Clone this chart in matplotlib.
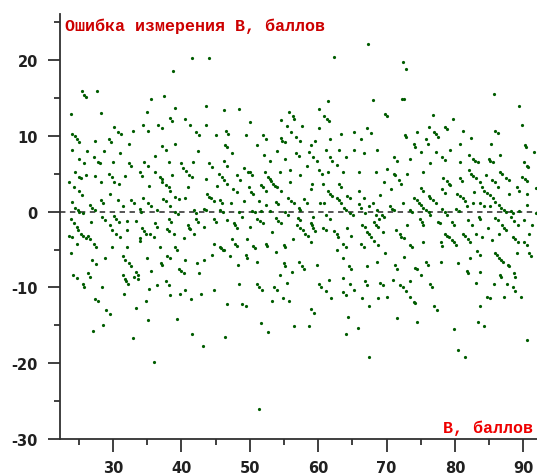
import matplotlib.pyplot as plt
from matplotlib.ticker import MultipleLocator

# (B, error) pairs, split by B range
pts_low = [
    (41.6, 20.3), (44.0, 20.3), (38.8, 18.6), (25.5, 15.9), (25.8, 15.4), (26.1, 15.2),
    (27.7, 15.9), (35.5, 14.9), (37.5, 15.3), (23.8, 12.9), (28.2, 13.0), (39.1, 13.7),
    (43.6, 13.9), (46.2, 13.4), (34.9, 13.2), (38.3, 12.4), (38.6, 12.0), (30.1, 11.2),
    (30.7, 10.5), (31.2, 10.2), (32.9, 10.7), (34.4, 11.5), (35.1, 10.7), (36.6, 11.5),
    (37.1, 11.0), (40.5, 12.2), (41.3, 11.5), (43.6, 11.5), (42.1, 10.5), (42.6, 10.1),
    (45.1, 10.1), (46.5, 10.7), (46.8, 10.3), (24.0, 10.3), (24.4, 10.0), (24.7, 9.6),
    (25.0, 9.2), (27.3, 9.3), (29.4, 9.6), (29.7, 9.2), (32.4, 8.9), (39.0, 9.0),
    (37.1, 8.7), (46.4, 8.8), (46.7, 8.5),
    (24.0, 8.1), (26.2, 8.0), (28.7, 8.0), (31.0, 7.8), (36.2, 7.4), (37.8, 8.1),
    (42.5, 8.0), (25.1, 6.9), (25.7, 6.4), (27.2, 7.2), (27.8, 6.6), (28.1, 6.4),
    (30.0, 6.6), (32.3, 6.4), (32.7, 6.1), (34.6, 6.6), (35.1, 6.1), (38.2, 6.6),
    (39.9, 6.4), (40.3, 5.8), (40.7, 5.4), (41.7, 6.5), (44.0, 6.4), (44.5, 5.9),
    (46.2, 6.7), (46.6, 6.1), (24.5, 5.2), (25.0, 4.6), (25.3, 4.4), (26.0, 4.9),
    (27.4, 4.7), (29.4, 5.0), (29.9, 4.6), (31.8, 4.7), (33.9, 5.2), (34.3, 4.7),
    (36.2, 5.2), (36.8, 4.6), (37.1, 4.3), (38.6, 4.8), (41.1, 4.9), (41.6, 4.6),
    (43.6, 4.3), (45.5, 5.0), (45.9, 4.6), (46.3, 4.2), (23.6, 3.9), (24.3, 3.2),
    (25.0, 2.7), (25.4, 2.2), (28.3, 3.9), (30.1, 3.9), (30.9, 3.6), (35.2, 3.4),
    (37.2, 3.9), (37.8, 3.5), (38.2, 3.2), (38.4, 2.7), (40.9, 3.2), (45.2, 3.4),
    (46.7, 3.7), (28.3, 1.5), (28.6, 1.2), (29.6, 2.3), (30.7, 1.5), (32.7, 1.5),
    (33.1, 1.2), (34.4, 1.8), (35.1, 1.2), (35.5, 0.8), (37.3, 1.7), (37.7, 1.4),
    (39.1, 2.0), (39.6, 1.7), (40.6, 1.8), (43.8, 2.3), (44.1, 2.0), (44.4, 1.8),
    (44.8, 1.4), (45.6, 1.5), (46.0, 1.1), (24.0, 1.3), (24.5, 0.5), (24.9, 0.2),
    (25.1, 0.0), (26.6, 0.9), (27.0, 0.5), (27.3, 0.2), (31.4, 0.7), (33.9, 0.4),
    (34.1, 0.0), (36.5, 0.2), (38.4, 0.7), (39.1, 0.0), (39.5, -0.3), (41.8, 0.2),
    (42.2, -0.2), (43.3, 0.4), (43.6, 0.2), (45.7, 0.2), (46.1, 0.0), (23.8, -1.0),
    (24.3, -1.5), (24.8, -2.0), (25.6, -0.2), (26.8, -1.4), (28.4, -0.7), (28.8, -1.1),
    (30.1, -0.5), (30.5, -1.0), (30.9, -1.4), (32.0, -1.2), (33.4, -1.2), (34.3, -2.2),
    (34.6, -2.6), (34.8, -2.9), (36.2, -1.5), (36.5, -2.0), (38.2, -0.9), (38.5, -1.4),
    (40.9, -1.8), (41.1, -2.1), (41.3, -2.3), (42.1, -1.0), (42.4, -1.3), (43.3, -2.0),
    (44.8, -0.9), (45.1, -1.3), (46.7, -1.1), (23.6, -3.2), (24.0, -3.4), (24.9, -2.4),
    (25.3, -2.9), (25.6, -3.2), (26.0, -3.5), (26.3, -3.2), (26.7, -3.6), (27.2, -4.2),
    (27.5, -4.6), (29.5, -1.8), (29.9, -2.4), (30.4, -2.9), (31.0, -3.4), (32.1, -2.4),
    (33.9, -3.5), (34.0, -3.9), (35.4, -2.9), (36.0, -3.4), (37.9, -2.3), (38.2, -2.6),
    (38.9, -3.0), (40.4, -3.5), (41.8, -2.9), (44.8, -4.2), (45.7, -4.6), (46.1, -5.1),
    (23.8, -5.5), (24.7, -4.2), (27.0, -6.4), (27.5, -6.9), (28.9, -6.1), (29.9, -4.6),
    (31.4, -5.9), (31.7, -6.4), (32.1, -4.6), (32.4, -6.8), (32.7, -7.2), (33.3, -8.0),
    (33.6, -8.3), (34.9, -6.1), (35.6, -7.8), (36.9, -4.7), (37.0, -6.8), (37.2, -7.0),
    (37.9, -5.8), (38.4, -6.1), (39.1, -4.6), (39.3, -5.0), (39.6, -7.5), (39.9, -7.8),
    (40.6, -6.4), (42.3, -6.8), (42.6, -8.1), (43.3, -6.4), (44.5, -5.7), (45.8, -4.8),
    (46.2, -5.1), (47.1, -5.9), (24.2, -8.3), (24.7, -8.8), (25.6, -9.6), (25.8, -9.9),
    (26.3, -8.1), (26.7, -8.6), (28.4, -10.0), (31.4, -8.4), (31.7, -8.9), (31.9, -9.2),
    (32.2, -9.5), (33.1, -8.6), (33.6, -8.9), (35.2, -10.2), (36.5, -9.7), (37.8, -9.2),
    (38.2, -9.7), (38.4, -11.0), (39.8, -10.9), (40.4, -8.1), (40.6, -10.3), (42.8, -10.8),
    (44.8, -10.3), (31.6, -10.9),
    (27.4, -11.5), (27.8, -11.8), (29.0, -13.0), (29.5, -13.5), (28.6, -14.9), (27.1, -15.7),
    (32.9, -16.7), (33.4, -12.7), (34.8, -11.8), (35.1, -14.3), (36.0, -19.9), (39.3, -14.2),
    (41.4, -11.5), (41.6, -16.2), (43.1, -17.7), (46.4, -16.5), (46.6, -12.2),
]

pts_mid = [
    (67.3, 22.2), (62.3, 20.4), (61.4, 14.6), (68.0, 14.8), (48.4, 13.6), (50.1, 11.8),
    (55.7, 13.2), (56.3, 12.6), (56.5, 12.3), (60.1, 13.6), (60.8, 12.7), (61.3, 12.3),
    (61.6, 12.0), (54.5, 12.1), (57.7, 11.3), (55.5, 11.3), (56.1, 10.5), (60.1, 11.1),
    (63.3, 10.2), (65.3, 10.5), (67.2, 11.0), (67.7, 10.4), (49.5, 10.1), (52.0, 10.1),
    (52.4, 9.6), (54.5, 9.7), (54.7, 9.4), (55.2, 9.2), (56.8, 9.9), (57.3, 9.3),
    (59.5, 9.3), (61.7, 9.6), (66.3, 9.6), (51.0, 8.8), (59.0, 8.8), (47.4, 7.7),
    (52.1, 7.5), (54.0, 8.0), (56.8, 7.7), (57.2, 7.4), (58.7, 7.9), (59.2, 7.2),
    (59.9, 6.7), (61.1, 8.1), (61.7, 7.2), (63.0, 8.1), (64.1, 7.2), (65.3, 8.1),
    (66.7, 7.7), (68.6, 8.1), (53.0, 6.7), (55.2, 7.0), (58.3, 6.0), (62.0, 6.7),
    (62.7, 6.2), (63.7, 5.3), (66.0, 5.3), (68.5, 5.2), (48.1, 4.9), (49.2, 5.8),
    (49.7, 5.3), (50.0, 5.2), (50.3, 4.9), (52.2, 5.3), (54.4, 5.3), (55.9, 5.5),
    (57.3, 4.9), (60.1, 5.5), (60.6, 5.0), (61.4, 5.2), (48.6, 4.2), (52.6, 4.6),
    (52.9, 4.3), (53.1, 4.0), (53.4, 3.7), (53.7, 3.4), (54.0, 3.2), (54.6, 2.7),
    (55.9, 3.9), (59.1, 3.7), (60.7, 3.7), (63.0, 3.6), (63.3, 3.2), (47.6, 3.0),
    (48.1, 2.6), (49.9, 3.2), (50.2, 2.6), (50.5, 2.4), (51.7, 3.5), (52.0, 3.2),
    (52.3, 2.8), (55.6, 1.8), (56.1, 1.4), (56.5, 1.1), (58.0, 1.7), (58.4, 1.2),
    (59.0, 3.0), (61.4, 2.7), (61.8, 2.4), (62.0, 2.1), (62.7, 1.8), (63.0, 1.5),
    (63.4, 1.2), (64.2, 2.1), (64.6, 1.8), (65.9, 2.8), (66.7, 1.8), (68.0, 1.1),
    (69.0, 2.2), (47.3, 1.1), (49.1, 1.4), (51.3, 1.4), (52.4, 0.9), (53.8, 1.3),
    (54.1, 1.0), (57.2, 0.5), (57.4, 0.2), (60.3, 1.1), (60.9, 1.1), (63.8, 0.5),
    (65.9, 1.0), (66.2, 0.5), (67.4, 0.8), (68.6, 0.2), (48.4, 0.0), (48.9, -0.7),
    (50.3, 0.1), (50.7, -0.1), (51.7, 0.1), (52.9, 0.1), (55.2, -0.1), (55.6, -0.4),
    (57.0, -0.8), (57.4, -1.1), (59.3, -0.7), (61.1, -0.4), (61.7, -0.9), (64.1, 0.2),
    (64.7, -0.2), (65.1, -0.4), (66.9, -0.2), (68.4, -0.4), (68.9, -1.0), (47.7, -1.5),
    (47.9, -1.8), (48.1, -2.1), (50.1, -2.0), (51.1, -0.9), (51.5, -1.2), (52.0, -1.5),
    (53.8, -0.8), (54.1, -1.2), (54.5, -1.5), (56.9, -1.8), (57.4, -2.1), (57.8, -2.4),
    (58.1, -2.9), (58.5, -3.2), (58.9, -1.5), (59.1, -1.8), (59.3, -2.1), (59.5, -2.5),
    (60.7, -2.1), (61.1, -2.4), (62.3, -2.6), (62.7, -3.0), (62.9, -3.3), (64.2, -2.2),
    (66.4, -1.7), (66.8, -2.0), (67.1, -2.7), (67.4, -3.0), (67.7, -3.3), (68.1, -1.3),
    (68.5, -1.7), (68.7, -2.0), (47.4, -3.6), (47.9, -4.2), (48.1, -4.5), (49.6, -3.6),
    (50.5, -4.5), (50.8, -4.8), (52.3, -4.2), (52.5, -4.5), (53.3, -2.7), (53.8, -5.3),
    (55.0, -4.4), (55.2, -4.7), (56.3, -3.6), (58.9, -4.0), (62.8, -5.1), (63.7, -4.2),
    (64.0, -4.7), (64.8, -3.2), (66.2, -4.2), (66.7, -4.7), (68.1, -3.9), (68.7, -4.4),
    (49.4, -5.7), (49.6, -6.1), (48.3, -7.0), (51.0, -6.6), (55.0, -6.8), (55.2, -7.1),
    (56.2, -8.0), (57.2, -6.6), (57.7, -7.1), (58.0, -7.5), (59.8, -7.0), (63.7, -6.1),
    (64.5, -7.2), (64.8, -7.6), (67.1, -7.1), (68.6, -6.6), (54.4, -8.3), (48.4, -9.6),
    (51.1, -9.6), (51.3, -9.9), (51.8, -10.3), (53.6, -9.9), (54.0, -10.3), (55.4, -9.4),
    (60.1, -9.6), (60.4, -9.9), (61.6, -9.0), (61.2, -10.5), (63.7, -8.7), (63.7, -10.6),
    (64.1, -11.0), (64.7, -9.6), (65.3, -10.3), (66.9, -9.2), (67.2, -9.7),
    (48.9, -12.2), (49.4, -12.5), (53.3, -11.8), (54.9, -11.4), (55.7, -11.8), (59.0, -12.9),
    (59.4, -13.4), (51.6, -14.7), (52.7, -15.9), (56.4, -15.1), (58.6, -15.1), (51.4, -26.1),
    (61.9, -11.4), (64.4, -13.9), (64.1, -16.1), (65.8, -15.4), (67.5, -12.4), (67.5, -19.2),
    (66.4, -11.4), (68.7, -11.4),
]

pts_high = [
    (72.4, 19.7), (72.9, 18.9), (72.3, 14.9), (72.6, 14.9), (85.7, 15.5), (89.3, 14.0),
    (89.8, 11.5), (69.8, 12.9), (70.1, 12.7), (76.8, 12.8), (79.7, 12.2), (76.2, 11.2),
    (74.4, 10.5), (77.0, 10.5), (77.2, 10.2), (77.5, 9.9), (78.5, 11.2), (78.9, 10.9),
    (81.2, 10.7), (85.8, 10.7), (86.3, 10.4), (72.7, 10.1), (72.9, 9.9), (75.7, 9.6),
    (76.0, 9.0), (74.0, 8.9), (74.1, 8.6), (80.8, 8.9), (82.3, 9.7), (85.3, 9.0),
    (90.3, 8.8), (90.4, 8.5),
    (71.1, 7.2), (71.6, 6.7), (73.4, 7.0), (75.0, 7.9), (77.2, 7.9), (78.1, 7.2),
    (78.5, 6.8), (79.3, 8.1), (80.8, 6.6), (82.0, 7.5), (82.7, 7.0), (83.0, 6.7),
    (83.3, 6.5), (85.0, 7.0), (85.2, 6.7), (85.6, 6.5), (86.6, 7.5), (90.1, 6.6),
    (90.6, 6.1), (91.6, 7.9), (70.1, 5.7), (71.1, 5.0), (71.3, 4.8), (73.0, 5.0),
    (75.4, 5.2), (76.4, 6.4), (78.3, 4.5), (78.8, 4.0), (79.1, 3.7), (79.3, 3.5),
    (80.7, 4.4), (81.0, 4.0), (82.0, 5.5), (82.4, 5.0), (82.7, 4.7), (83.1, 4.4),
    (83.7, 3.9), (84.6, 4.9), (85.4, 4.2), (85.9, 3.9), (86.6, 5.3), (86.9, 5.0),
    (87.5, 4.5), (87.9, 4.2), (89.8, 4.6), (90.2, 4.3), (90.5, 4.0), (90.7, 5.9),
    (69.7, 3.9), (71.8, 4.2), (72.1, 3.7), (70.7, 3.0), (75.1, 3.1), (75.4, 2.7),
    (76.2, 2.1), (76.4, 1.8), (76.8, 1.5), (77.2, 1.2), (78.1, 3.0), (78.5, 2.5),
    (80.3, 2.4), (80.7, 2.1), (81.2, 1.8), (81.5, 1.4), (82.8, 2.6), (84.0, 3.3),
    (84.3, 2.8), (84.7, 2.5), (85.1, 2.2), (85.6, 1.8), (85.9, 1.3), (86.3, 3.3),
    (87.9, 2.4), (89.1, 3.2), (89.3, 2.8), (90.6, 2.4), (91.8, 3.1), (72.4, 1.2),
    (74.0, 1.8), (74.4, 1.5), (74.7, 1.2), (75.1, 0.9), (75.4, 0.5), (75.8, 0.2),
    (76.2, -0.1), (76.4, -0.4), (70.5, 0.8), (70.8, 0.4), (71.1, 0.2), (73.5, 0.2),
    (73.7, 0.0), (78.1, 0.4), (78.6, -0.1), (78.9, -0.4), (80.2, 0.4), (80.6, 0.1),
    (81.7, 0.8), (82.7, 1.2), (83.7, 1.2), (84.2, 0.8), (85.2, 0.7), (86.4, 0.9),
    (86.8, 0.5), (87.2, 0.2), (87.5, -0.1), (88.2, 0.1), (88.5, -0.2), (89.3, 0.1),
    (90.6, 0.9), (69.4, -0.4), (69.7, -0.7), (73.0, -1.8), (74.9, -1.0), (75.2, -1.3),
    (75.3, -1.7), (77.5, -1.3), (77.8, -1.5), (79.6, -1.4), (79.9, -1.8), (81.9, -1.1),
    (82.5, -1.8), (83.5, -0.7), (83.7, -1.0), (84.8, -2.1), (85.9, -0.8), (86.3, -1.1),
    (86.9, -1.7), (87.2, -2.2), (87.5, -2.4), (88.2, -0.7), (88.7, -1.2), (89.2, -1.8),
    (90.1, -1.1), (91.3, -1.8), (91.9, -0.2), (69.5, -2.7), (71.4, -2.4), (71.9, -3.0),
    (72.1, -3.3), (72.6, -3.5), (73.4, -4.4), (73.7, -4.7), (75.4, -4.0), (77.9, -4.0),
    (78.1, -4.5), (78.6, -2.9), (78.9, -3.2), (79.2, -3.4), (79.6, -3.7), (79.9, -4.0),
    (80.2, -4.4), (81.2, -2.9), (81.5, -3.2), (81.9, -3.6), (82.2, -4.0), (83.1, -3.0),
    (84.0, -3.4), (83.2, -5.2), (85.4, -3.7), (86.4, -3.0), (88.5, -3.3), (88.8, -3.6),
    (89.2, -4.0), (90.1, -4.0), (90.5, -4.4), (90.8, -2.9), (69.8, -5.4), (71.3, -7.0),
    (71.5, -7.5), (72.6, -6.0), (74.2, -7.4), (74.5, -7.5), (75.7, -6.6), (76.0, -7.0),
    (78.0, -6.7), (80.4, -6.8), (82.2, -6.1), (83.7, -5.7), (85.9, -5.4), (86.2, -5.7),
    (86.4, -6.1), (86.7, -6.4), (87.0, -6.7), (87.7, -7.0), (87.9, -7.2), (89.1, -5.5),
    (90.8, -5.4), (91.1, -5.8), (69.1, -9.4), (69.5, -9.7), (71.0, -9.0), (72.0, -9.7),
    (72.4, -10.0), (73.4, -9.1), (75.0, -8.3), (76.4, -9.6), (76.7, -9.9), (81.7, -7.8),
    (81.9, -8.1), (83.6, -8.0), (83.1, -9.4), (85.7, -9.6), (86.6, -8.3), (86.8, -8.6),
    (87.6, -9.6), (88.6, -8.1), (88.8, -8.6), (88.5, -10.0), (88.8, -10.4), (89.6, -11.3),
    (70.1, -11.3), (72.8, -10.5), (73.5, -11.3), (84.7, -11.2), (87.2, -11.2),
    (74.0, -11.9), (74.2, -12.1), (77.0, -12.5), (77.4, -13.0), (83.7, -12.4), (85.2, -11.4),
    (71.5, -14.0), (74.4, -14.5), (79.9, -15.5), (80.5, -18.3), (81.4, -19.2), (83.4, -14.5),
    (84.2, -15.1), (90.5, -16.9),
]

x_ticks = [30, 40, 50, 60, 70, 80, 90]
y_ticks = [-30, -20, -10, 0, 10, 20]

plt.rcParams['axes.unicode_minus'] = False

fig = plt.figure(figsize=(5.37, 4.77), dpi=100)
ax = fig.add_axes([60 / 537, 37 / 477, 477 / 537, 425 / 477])

for pts in (pts_low, pts_mid, pts_high):
    bx = [p[0] for p in pts]
    err = [p[1] for p in pts]
    ax.plot(bx, err, 'o', color='#005c00', ms=2.3, mew=0)

ax.axhline(0, color='#484848', lw=1.3, ls=(0, (3, 2.5)), zorder=0)

ax.set_xlim(22.25, 92.0)
ax.set_ylim(-30, 26.1)

for side in ('top', 'right'):
    ax.spines[side].set_visible(False)
for side in ('left', 'bottom'):
    ax.spines[side].set_color('#303030')
    ax.spines[side].set_linewidth(1.3)

ax.set_xticks(x_ticks)
ax.set_yticks(y_ticks)
ax.xaxis.set_minor_locator(MultipleLocator(5))
ax.yaxis.set_minor_locator(MultipleLocator(5))
ax.tick_params(which='major', length=9, width=1.3, color='#303030', pad=6,
               labelsize=10.5, labelcolor='#202020')
ax.tick_params(axis='y', which='major', pad=7)
ax.tick_params(which='minor', length=4, width=1.3, color='#303030')
for lab in ax.get_xticklabels() + ax.get_yticklabels():
    lab.set_fontweight('bold')

fig.text(65 / 537, 1 - 26 / 477, 'Ошибка измерения В, баллов', color='#cc0000',
         fontsize=12, fontweight='bold', family='Liberation Mono', va='center', ha='left')
fig.text(533 / 537, 1 - 428 / 477, 'В, баллов', color='#ee0000',
         fontsize=12, fontweight='bold', family='Liberation Mono', va='center', ha='right')

fig.savefig('out.png', dpi=100)
